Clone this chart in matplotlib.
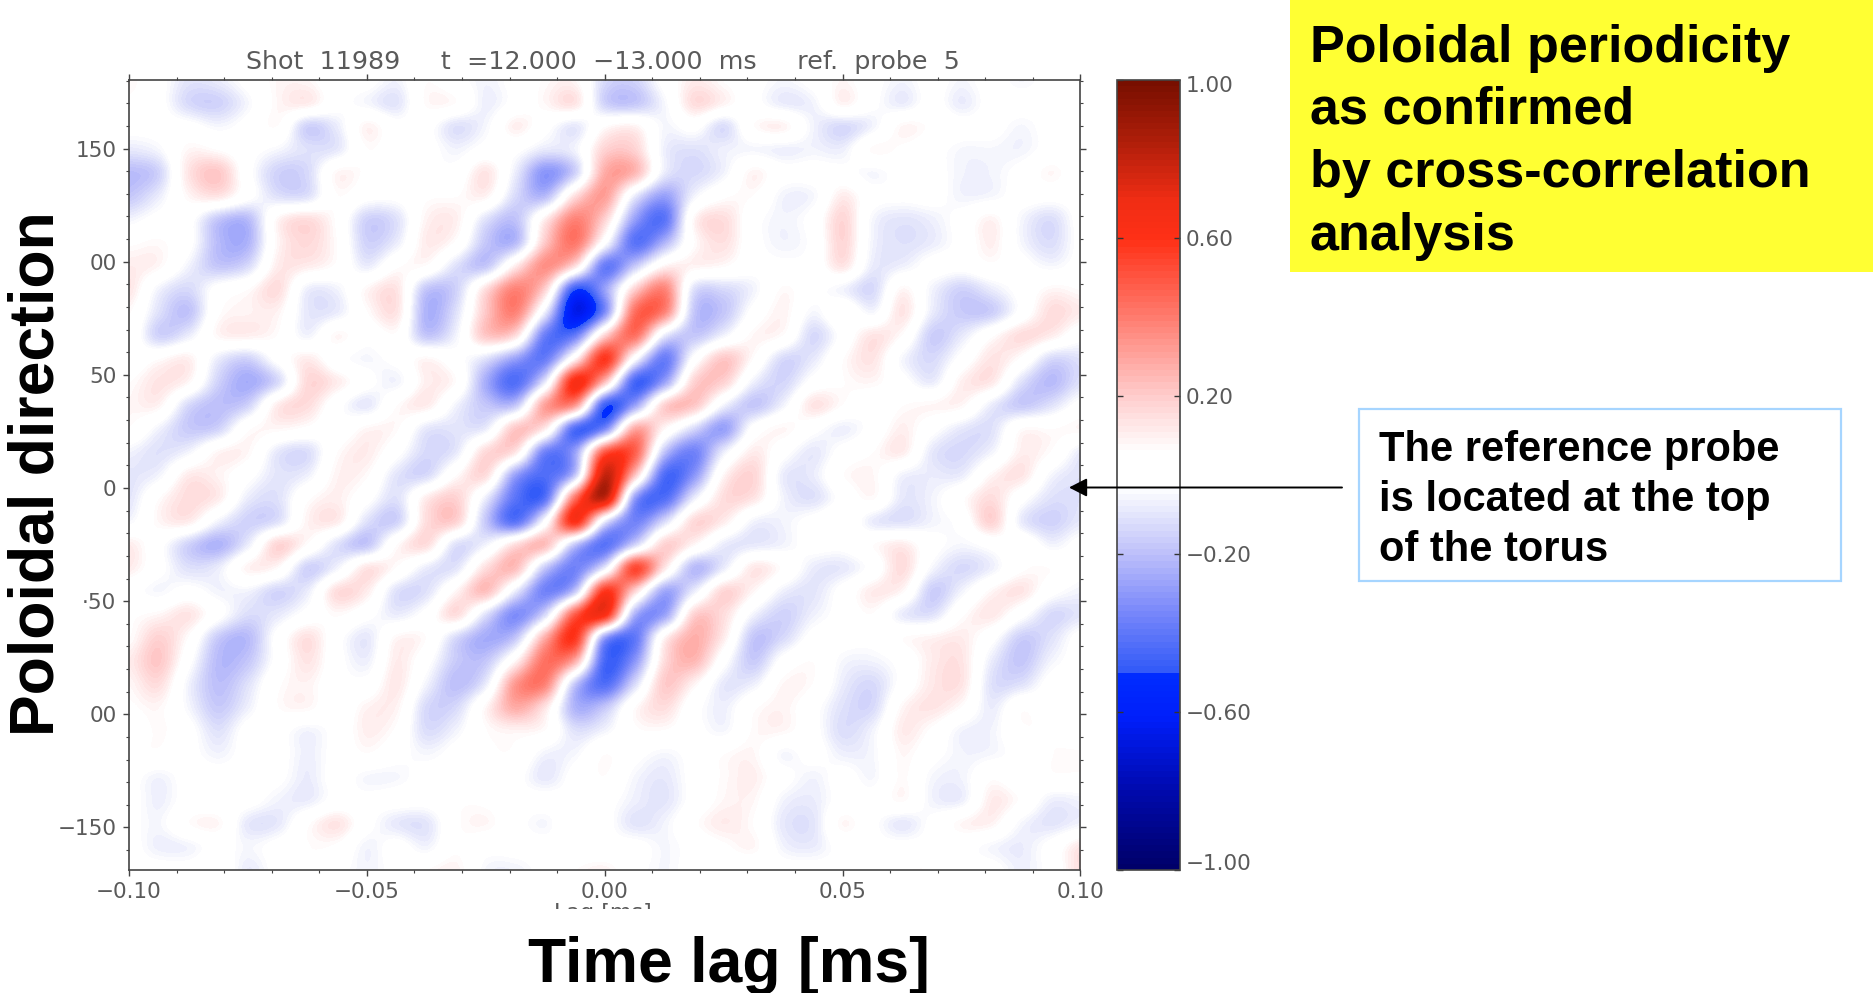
import numpy as np
import matplotlib
matplotlib.use("Agg")
import matplotlib.pyplot as plt
from matplotlib.colors import LinearSegmentedColormap, Normalize
from matplotlib.patches import Rectangle, FancyArrowPatch
from matplotlib.ticker import FixedLocator, MultipleLocator
from matplotlib.transforms import Bbox, ScaledTranslation

W, H = 1874, 993
TITLE = "Shot  11989     t  =12.000  \u221213.000  ms     ref.  probe  5"
X_TICKS = [-0.10, -0.05, 0.00, 0.05, 0.10]
X_LABELS = ["\u22120.10", "\u22120.05", "0.00", "0.05", "0.10"]
Y_TICKS = [150, 100, 50, 0, -50, -100, -150]
Y_LABELS = ["150", "00", "50", "0", "\u00b750", "00", "\u2212150"]
CB_TICKS = [1.0, 0.6, 0.2, -0.2, -0.6, -1.0]
CB_LABELS = ["1.00", "0.60", "0.20", "\u22120.20", "\u22120.60", "\u22121.00"]
HEAD_LINES = ["Poloidal periodicity", "as confirmed", "by cross-correlation", "analysis"]
NOTE_LINES = ["The reference probe", "is located at the top", "of the torus"]

# correlation x 100; rows run top to bottom, columns left to right
row00 = [5,0,-7,-5,0,5,5,0,0,-3,3,0,-3,0,4,5,-10,-12,0,8,3,0,-2,0,5,0,-3,0,-2,0,-2,0,0]
row01 = [2,0,-10,-12,-2,5,8,0,-2,-7,4,3,-4,0,5,10,-12,-15,-2,12,6,0,-5,-3,6,-1,-5,0,-5,0,0,0,0]
row02 = [0,0,0,-2,0,3,-12,-5,6,0,0,-8,-2,7,0,-6,3,6,-2,0,-9,3,6,-3,-10,-3,5,2,0,0,-2,0,0]
row03 = [-6,-2,5,3,0,-2,-8,-6,3,1,0,-3,0,-1,-6,-3,15,15,-4,-8,-4,-2,-4,-3,-4,4,2,0,-2,-2,-3,0,0]
row04 = [-18,-12,10,18,0,-12,-10,5,2,0,-1,0,10,-5,-28,-12,25,22,-5,-10,-3,6,0,0,0,-2,0,0,-3,-3,0,5,0]
row05 = [-15,-5,5,10,0,-8,-8,3,0,-1,2,3,6,-10,-18,12,28,-5,-25,-3,2,3,-3,-2,8,0,-1,0,-3,-2,0,0,0]
row06 = [-3,0,0,-15,-18,5,12,2,-12,-8,6,7,-8,-16,8,35,15,-25,-38,5,12,0,-3,0,14,-2,-7,-4,0,6,-2,-9,0]
row07 = [2,4,0,-18,-20,5,13,3,-12,-5,8,2,-15,-18,18,38,0,-38,-20,3,11,0,-3,-1,14,-3,-8,-5,0,7,-2,-9,-1]
row08 = [8,5,-3,-15,-10,8,8,2,-5,2,3,-8,-15,8,32,12,-35,-15,5,6,4,0,-1,0,10,-5,-4,0,0,2,0,-2,0]
row09 = [10,-3,-10,0,3,12,-4,-3,5,10,-15,-12,12,35,15,-45,-25,15,35,-8,-10,-3,4,0,-3,-10,5,-3,-12,-5,0,5,3]
row10 = [4,-8,-16,2,6,6,-6,-5,3,10,-20,-8,18,35,-5,-62,-30,40,35,-15,-15,0,6,-2,2,-2,10,-5,-14,-13,0,12,8]
row11 = [2,-12,-5,5,7,3,-3,5,0,2,-15,-3,18,12,-35,-35,15,40,-5,-15,-3,5,3,-10,0,10,3,-13,-6,2,12,8,0]
row12 = [0,3,7,-5,-12,0,8,0,-2,0,5,0,-8,-25,-35,5,55,0,-35,0,18,3,-10,-6,3,10,-2,-10,0,10,2,-10,-8]
row13 = [3,10,5,-12,-22,-10,13,8,0,-3,7,3,-22,-40,-5,60,20,-42,-25,15,15,-4,-11,0,3,5,0,-5,7,9,-8,-18,-8]
row14 = [5,6,-10,-17,-12,8,12,0,-6,3,8,-3,-15,-15,28,30,-44,-25,15,18,-3,-15,-3,10,3,0,3,5,5,-5,-14,-8,0]
row15 = [3,-3,-14,-12,2,5,2,0,5,4,-6,-7,-5,18,8,-40,-32,25,5,-10,-25,0,5,0,-4,0,7,0,-6,-8,3,3,5]
row16 = [-3,-8,-3,5,5,-6,-9,3,8,0,-10,-6,13,10,-33,-25,45,45,-15,-33,-5,8,0,-6,0,3,8,-6,-10,-3,7,3,-5]
row17 = [-7,-3,8,6,0,-7,-4,6,4,-7,-10,3,12,-25,-40,-15,76,20,-40,-28,5,14,-5,-5,3,5,-3,-5,-5,5,10,-2,-8]
row18 = [-7,3,12,8,-5,-8,2,7,0,-8,8,15,-5,-38,-38,40,76,-25,-40,-5,12,10,-3,-8,0,4,-6,-3,2,12,0,-8,-8]
row19 = [-2,5,8,-3,-12,-8,6,8,-8,-12,12,15,-15,-38,0,58,-5,-33,-10,13,8,-3,-3,0,2,-5,-8,-3,0,15,-5,-12,-6]
row20 = [8,0,-12,-20,-5,14,3,-8,-15,3,12,-8,-3,12,20,-15,-38,-12,15,5,-5,-6,-3,0,0,3,8,0,-2,0,2,-3,0]
row21 = [8,0,-8,-5,6,4,-12,-3,10,3,-5,-7,12,20,-15,-33,-5,50,10,-18,-5,9,2,-5,-6,0,12,-2,-10,-4,2,3,0]
row22 = [0,-2,0,-3,-3,-11,-5,12,8,-8,-8,5,20,-5,-33,-15,55,15,-23,-5,14,5,-4,-7,0,8,5,-13,-3,5,10,0,-3]
row23 = [2,5,10,0,-9,-6,0,4,0,-5,0,12,-8,-30,-10,45,60,-20,-25,15,12,-3,-12,-4,0,3,-5,-8,2,9,0,-10,-7]
row24 = [3,15,3,-14,-18,0,11,0,-6,5,3,-10,-22,-15,25,55,-25,-37,5,24,8,-15,-10,0,0,0,3,6,8,0,-13,-8,0]
row25 = [8,18,0,-18,-15,0,10,0,-4,8,0,-14,-15,5,40,25,-42,-28,12,22,0,-14,0,3,-2,-3,0,8,10,-5,-15,-3,0]
row26 = [5,12,-3,-17,-8,2,6,0,0,9,-3,-17,-5,30,35,-15,-40,-10,17,6,-6,-4,5,3,-5,-10,0,9,10,-8,-8,0,0]
row27 = [2,5,-2,-14,-4,3,5,0,6,6,-10,-10,5,25,10,-20,-15,3,12,0,-4,2,6,0,-8,-10,5,10,3,-5,2,0,0]
row28 = [0,4,0,-8,0,0,-3,0,7,2,-9,-3,3,6,3,-8,-3,2,3,0,-2,4,5,0,-9,-3,8,2,-3,-3,2,2,0]
row29 = [2,2,0,-3,0,0,-4,0,3,0,-2,0,2,2,-3,-2,3,0,-2,0,3,5,-2,0,-4,-2,5,0,-3,-2,0,3,4]
row30 = [0,-3,0,0,0,-1,-5,0,-2,-2,0,0,2,0,-6,0,3,-2,-6,0,4,7,0,-3,0,-2,4,-2,-3,2,0,2,2]
row31 = [0,-4,0,0,0,-3,-5,0,-1,0,0,2,2,0,0,0,0,-4,-7,0,5,5,-3,-5,0,0,4,-3,-4,8,2,-4,-3]
row32 = [-1,-2,3,5,-6,-6,2,10,0,-6,-7,2,5,0,-2,3,0,-7,-3,2,8,3,-6,-7,5,-1,-6,-1,5,6,-2,-7,-3]
row33 = [0,-4,-3,0,-2,0,3,2,-3,0,-3,2,0,0,0,1,0,0,-2,0,2,5,-3,-5,0,0,0,0,0,-2,-5,0,10]
row34 = [0,0,0,2,-5,0,2,0,-3,0,3,6,-2,-3,0,3,6,0,-2,0,0,0,0,0,0,2,3,3,0,0,-4,0,12]
corr = np.array([row00,row01,row02,row03,row04,row05,row06,row07,row08,row09,row10,row11,
                 row12,row13,row14,row15,row16,row17,row18,row19,row20,row21,row22,row23,
                 row24,row25,row26,row27,row28,row29,row30,row31,row32,row33,row34]) / 100.0
# the pale tints were read a little low: lift every tinted cell by a fixed reading correction
READ_CORRECTION = 0.03
corr = np.where(np.abs(corr) >= 0.02, corr + np.sign(corr) * READ_CORRECTION, corr)

X_MIN, X_MAX = -0.10, 0.10
Y_MIN, Y_MAX = -168.8, 180.3
nrows, ncols = corr.shape
dx = (X_MAX - X_MIN) / (ncols - 1)
dy = (Y_MAX - Y_MIN) / (nrows - 1)

stops = [(-1.0, (0, 0, 105)), (-0.8, (0, 10, 175)), (-0.62, (0, 30, 250)), (-0.505, (0, 45, 255)),
         (-0.50, (50, 90, 248)), (-0.35, (120, 135, 250)), (-0.2, (190, 192, 250)),
         (-0.1, (228, 230, 252)), (-0.03, (255, 255, 255)), (0.06, (255, 255, 255)),
         (0.2, (255, 205, 205)), (0.4, (255, 125, 112)), (0.6, (255, 48, 22)), (0.7, (240, 45, 20)),
         (0.85, (175, 30, 10)), (1.0, (120, 15, 0))]
cmap = LinearSegmentedColormap.from_list(
    "idl", [((v + 1) / 2, tuple(c / 255 for c in rgb)) for v, rgb in stops], N=128)
norm = Normalize(-1, 1)

INK = "#5a5a5a"
plt.rcParams["font.family"] = ["DejaVu Sans"]


def box(x0, y0, x1, y1):
    return [x0 / W, 1 - y1 / H, (x1 - x0) / W, (y1 - y0) / H]


fig = plt.figure(figsize=(W / 100, H / 100), dpi=100, facecolor="white")
ax = fig.add_axes(box(129, 80, 1080.5, 870))
im = ax.imshow(corr, cmap=cmap, norm=norm, aspect="auto", origin="upper",
               interpolation="catrom", interpolation_stage="data",
               extent=(X_MIN - dx / 2, X_MAX + dx / 2, Y_MIN - dy / 2, Y_MAX + dy / 2))
ax.set_xlim(X_MIN, X_MAX)
ax.set_ylim(Y_MIN, Y_MAX)
ax.xaxis.set_major_locator(FixedLocator(X_TICKS))
ax.yaxis.set_major_locator(FixedLocator(Y_TICKS))
ax.xaxis.set_minor_locator(MultipleLocator(0.01))
ax.yaxis.set_minor_locator(MultipleLocator(10))
ax.set_xticklabels(X_LABELS)
ax.set_yticklabels(Y_LABELS)
ax.tick_params(which="major", direction="out", length=4, width=1, color="#444444",
               labelcolor=INK, labelsize=15.5, top=True, right=True, pad=5)
ax.tick_params(which="minor", direction="out", length=2, width=0.8, color="#444444",
               top=True, right=True)
for s in ax.spines.values():
    s.set_color("#444444")
    s.set_linewidth(1.2)

fig.text(603 / W, 1 - 62 / H, TITLE, ha="center", va="center", fontsize=18.3, color=INK)

cax = fig.add_axes(box(1117, 80, 1180, 870))
cb = fig.colorbar(im, cax=cax)
cb.set_ticks(CB_TICKS, labels=CB_LABELS)
cb.minorticks_off()
cax.tick_params(direction="in", length=4, width=1, color="#333333", labelcolor=INK,
                labelsize=15.5, left=True, right=True, pad=4)
cb.outline.set_edgecolor("#444444")
cb.outline.set_linewidth(1.2)
fig.canvas.draw()
labels = cax.get_yticklabels()
for lab in labels:
    if lab.get_text() == "1.00":
        lab.set_va("top")
        lab.set_transform(lab.get_transform() + ScaledTranslation(0, 4 / 100, fig.dpi_scale_trans))
    if lab.get_text() == "\u22121.00":
        lab.set_va("bottom")
        lab.set_transform(lab.get_transform() + ScaledTranslation(0, -4 / 100, fig.dpi_scale_trans))

# the stray small axis title, cut off in the reference
small = fig.text(603 / W, 1 - 903 / H, "Lag [ms]", ha="center", va="top", fontsize=16, color=INK)
small.set_clip_box(Bbox([[480, H - 909], [720, H - 895]]))
small.set_clip_on(True)

BOLD = dict(family="Liberation Sans", fontweight="bold", color="black")
fig.text(729 / W, 1 - 959 / H, "Time lag [ms]", ha="center", va="center_baseline", fontsize=45, **BOLD)
fig.text(37 / W, 1 - 474 / H, "Poloidal direction", rotation=90, ha="center", va="center", fontsize=45, **BOLD)

fig.add_artist(Rectangle((1290 / W, 1 - 272 / H), 584 / W, 272 / H, transform=fig.transFigure,
                         facecolor="#FFFF33", edgecolor="none", zorder=-1))
for line, base in zip(HEAD_LINES, [62, 124, 187.5, 250]):
    fig.text(1310 / W, 1 - base / H, line, ha="left", va="baseline", fontsize=37.5, **BOLD)

fig.add_artist(Rectangle((1359 / W, 1 - 581 / H), 482 / W, 172 / H, transform=fig.transFigure,
                         facecolor="white", edgecolor="#A6D5FF", linewidth=1.6))
for line, base in zip(NOTE_LINES, [461, 511, 561]):
    fig.text(1379 / W, 1 - base / H, line, ha="left", va="baseline", fontsize=30, **BOLD)

fig.add_artist(FancyArrowPatch(
    (1342 / W, 1 - 487.5 / H), (1069 / W, 1 - 487.5 / H), transform=fig.transFigure,
    arrowstyle="-|>,head_length=7,head_width=3.6", color="black", linewidth=1.4,
    shrinkA=0, shrinkB=0, mutation_scale=1.55, zorder=10))

fig.savefig("out.png", dpi=100, facecolor="white")
